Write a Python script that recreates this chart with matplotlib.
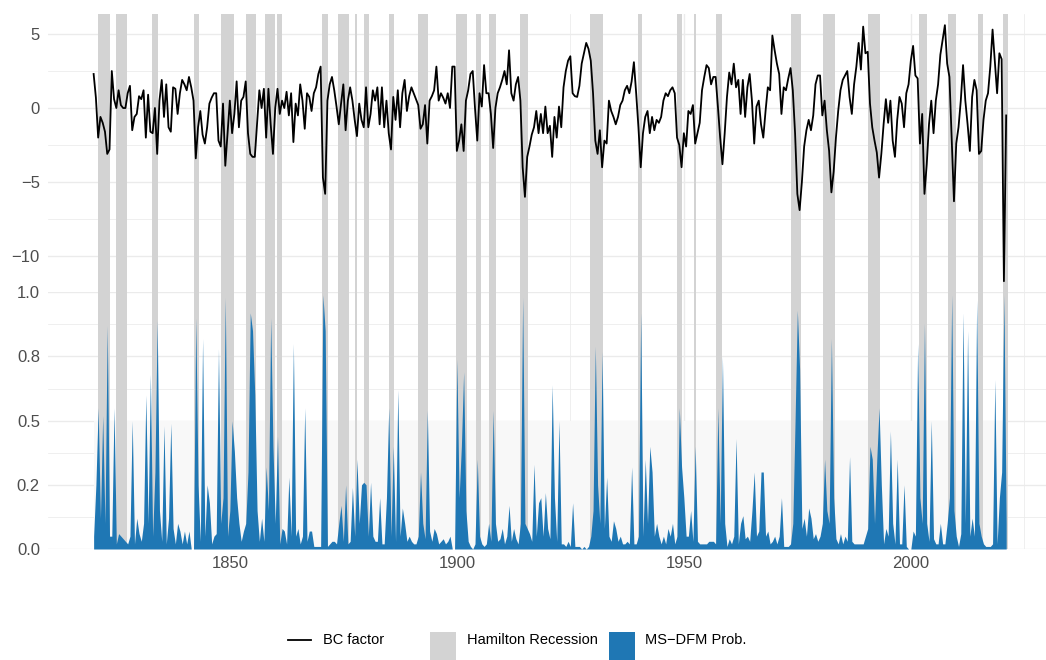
import numpy as np
import matplotlib
matplotlib.use("Agg")
import matplotlib.pyplot as plt
from matplotlib.patches import Rectangle
from matplotlib.lines import Line2D
from matplotlib.ticker import FixedLocator, FixedFormatter

plt.rcParams['font.family'] = ['Liberation Sans', 'DejaVu Sans']

# ---- data: semiannual observations starting 1820 ----
start_year = 1820.0
step_years = 0.5

bc_factor = [
    2.3, 0.7, -2.0, -0.6, -1.0, -1.6, -3.1, -2.8, 2.5, 0.6, 0.0, 1.2, 0.2, 0.0, 0.0, 1.0, 1.5, -1.5, -0.6, -0.4,
    0.8, 0.6, 1.2, -2.0, 0.9, -1.6, -1.7, 0.0, -3.1, 0.5, 1.9, -0.6, 1.6, -1.3, -1.6, 1.4, 1.3, -0.4, 1.0, 1.9,
    1.6, 1.2, 2.1, 1.4, 0.5, -3.4, -1.3, -0.2, -1.8, -2.4, -1.3, 0.3, 0.7, 1.0, 1.0, -2.2, -2.6, 0.3, -3.9, -1.7,
    0.5, -1.7, -0.4, 1.8, -1.3, 0.5, 0.75, 1.8, -1.7, -3.1, -3.3, -3.3, -1.1, 1.2, 0.0, 1.3, -2.0, 1.3, -1.1, -3.1,
    0.0, 1.3, -0.4, 0.5, 0.0, 1.1, -0.5, 1.0, -2.3, 0.3, -0.5, 1.6, 0.5, -1.4, 1.0, 0.75, -0.2, 1.0, 1.4, 2.3,
    2.8, -4.7, -5.8, 0.5, 1.6, 2.1, 1.2, 0.1, -1.1, 0.3, 1.6, -1.5, 0.5, 1.4, 0.5, -0.8, -1.9, 0.3, -0.8, -1.3,
    1.4, -1.3, -0.4, 1.2, 0.5, 1.4, -1.1, 1.4, -1.3, 0.5, -1.7, -2.8, 0.75, -0.8, 1.2, -1.3, 1.0, 1.9, -0.2, 0.8,
    1.4, 1.0, 0.6, 0.2, -1.4, -1.1, 0.2, -2.4, 0.5, 0.8, 1.2, 2.8, 0.5, 1.0, 0.7, 0.3, 1.0, 0.0, 2.8, 2.8,
    -2.9, -2.2, -1.1, -2.9, 0.5, 1.2, 2.3, 2.5, 0.0, -2.2, 1.0, 0.1, 2.9, 1.0, 1.0, -0.4, -2.7, 0.0, 1.0, 1.4,
    1.9, 2.5, 1.6, 3.9, 1.0, 0.5, 1.6, 2.1, 0.5, -4.0, -6.0, -3.3, -2.6, -1.8, -1.3, -0.2, -1.7, -0.4, -1.7, 0.1,
    -1.7, -1.2, -3.3, -0.6, -2.0, 0.1, -1.3, 1.4, 2.5, 3.2, 3.5, 1.0, 0.8, 0.75, 1.5, 3.0, 3.7, 4.4, 4.0, 3.2,
    1.0, -2.2, -3.1, -1.5, -4.0, -2.2, -2.4, 0.5, -0.2, -0.6, -1.1, -0.6, 0.2, 0.5, 1.2, 1.5, 1.0, 1.8, 3.1, 1.0,
    -1.3, -4.0, -1.7, -0.6, -0.2, -1.7, -0.6, -1.5, -0.8, -1.0, -0.6, 0.5, 1.0, 0.8, 1.2, 1.4, 1.0, -2.0, -2.5, -4.0,
    -1.7, -2.6, -0.2, -0.4, 0.2, -2.4, -1.7, -1.0, 1.2, 2.1, 2.9, 2.7, 1.6, 2.1, 2.1, 0.1, -2.0, -3.8, -1.7, 0.75,
    2.4, 1.6, 3.0, 1.4, 1.9, -0.4, 1.9, -0.6, 1.4, 2.3, 0.5, -2.4, 0.1, 0.5, -1.1, -2.0, -0.2, 1.4, 1.2, 4.9,
    3.9, 3.0, 2.3, -0.4, 1.4, 1.2, 2.0, 2.7, 1.2, -1.7, -5.8, -6.9, -5.0, -2.6, -1.5, -0.8, -1.5, -0.5, 1.6, 2.2,
    2.2, -0.5, 0.5, -1.5, -2.9, -5.7, -4.3, -2.0, -0.2, 1.2, 1.9, 2.2, 2.5, 0.75, -0.4, 1.6, 2.8, 4.4, 2.6, 5.5,
    3.7, 3.8, 0.3, -1.3, -2.2, -3.0, -4.7, -3.1, -1.1, 0.6, -1.0, 0.5, -2.2, -3.3, -0.8, 0.75, 0.3, -1.3, 1.0, 1.6,
    3.2, 4.2, 2.2, 2.0, -2.4, -0.4, -5.8, -3.8, -1.1, 0.5, -1.7, 0.5, 1.6, 3.6, 4.6, 5.6, 3.0, 2.1, -2.2, -6.3,
    -2.4, -1.3, 0.5, 2.9, 0.5, -1.1, -2.9, 0.75, 1.9, 1.2, -3.1, -2.9, -0.8, 0.5, 1.0, 2.8, 5.3, 3.2, 1.0, 3.7,
    3.3, -11.7, -0.5,
]

msdfm_prob = [
    0.05, 0.25, 0.55, 0.12, 0.52, 0.1, 0.87, 0.05, 0.05, 0.55, 0.02, 0.06, 0.05, 0.04, 0.03, 0.02, 0.05, 0.5, 0.02, 0.12,
    0.06, 0.03, 0.1, 0.6, 0.1, 0.68, 0.05, 0.3, 0.89, 0.15, 0.03, 0.48, 0.02, 0.12, 0.49, 0.08, 0.02, 0.1, 0.07, 0.02,
    0.07, 0.02, 0.07, 0.0, 0.0, 0.9, 0.25, 0.03, 0.82, 0.05, 0.25, 0.18, 0.02, 0.05, 0.06, 0.78, 0.1, 0.2, 0.98, 0.05,
    0.15, 0.5, 0.38, 0.2, 0.1, 0.03, 0.07, 0.1, 0.3, 0.92, 0.85, 0.6, 0.15, 0.03, 0.12, 0.03, 0.32, 0.15, 0.9, 0.4,
    0.1, 0.44, 0.02, 0.08, 0.07, 0.02, 0.28, 0.05, 0.8, 0.05, 0.08, 0.02, 0.05, 0.55, 0.03, 0.07, 0.07, 0.01, 0.01, 0.01,
    0.01, 0.99, 0.85, 0.01, 0.02, 0.03, 0.03, 0.02, 0.1, 0.17, 0.03, 0.25, 0.02, 0.03, 0.24, 0.05, 0.35, 0.1, 0.25, 0.26,
    0.25, 0.05, 0.26, 0.05, 0.03, 0.03, 0.2, 0.02, 0.02, 0.2, 0.55, 0.05, 0.4, 0.03, 0.62, 0.05, 0.16, 0.1, 0.03, 0.05,
    0.03, 0.02, 0.02, 0.05, 0.3, 0.1, 0.04, 0.54, 0.07, 0.03, 0.08, 0.06, 0.02, 0.03, 0.04, 0.02, 0.03, 0.05, 0.0, 0.0,
    0.74, 0.2, 0.4, 0.69, 0.15, 0.03, 0.01, 0.0, 0.02, 0.35, 0.05, 0.02, 0.01, 0.02, 0.1, 0.03, 0.54, 0.1, 0.03, 0.04,
    0.08, 0.02, 0.05, 0.17, 0.03, 0.08, 0.04, 0.02, 0.1, 0.98, 0.1, 0.08, 0.06, 0.03, 0.33, 0.05, 0.18, 0.2, 0.05, 0.22,
    0.08, 0.04, 0.64, 0.2, 0.03, 0.5, 0.02, 0.02, 0.01, 0.03, 0.01, 0.18, 0.01, 0.01, 0.01, 0.0, 0.01, 0.0, 0.01, 0.05,
    0.15, 0.79, 0.25, 0.1, 0.77, 0.08, 0.28, 0.05, 0.03, 0.11, 0.08, 0.03, 0.05, 0.02, 0.02, 0.03, 0.02, 0.32, 0.02, 0.02,
    0.05, 0.92, 0.05, 0.35, 0.1, 0.4, 0.3, 0.05, 0.1, 0.05, 0.02, 0.05, 0.02, 0.08, 0.05, 0.1, 0.02, 0.05, 0.55, 0.32,
    0.2, 0.05, 0.05, 0.15, 0.03, 0.4, 0.03, 0.02, 0.02, 0.02, 0.02, 0.03, 0.03, 0.03, 0.02, 0.55, 0.1, 0.75, 0.1, 0.01,
    0.04, 0.02, 0.05, 0.43, 0.02, 0.1, 0.13, 0.04, 0.05, 0.03, 0.15, 0.3, 0.05, 0.07, 0.3, 0.3, 0.05, 0.07, 0.02, 0.03,
    0.05, 0.02, 0.05, 0.2, 0.01, 0.01, 0.01, 0.02, 0.1, 0.5, 0.93, 0.7, 0.08, 0.12, 0.05, 0.16, 0.12, 0.04, 0.06, 0.03,
    0.05, 0.1, 0.35, 0.15, 0.1, 0.82, 0.2, 0.04, 0.02, 0.06, 0.02, 0.05, 0.03, 0.36, 0.03, 0.02, 0.02, 0.02, 0.02, 0.02,
    0.05, 0.08, 0.4, 0.35, 0.1, 0.35, 0.55, 0.25, 0.02, 0.08, 0.05, 0.46, 0.1, 0.02, 0.35, 0.02, 0.02, 0.25, 0.01, 0.0,
    0.0, 0.07, 0.05, 0.8, 0.2, 0.1, 0.88, 0.1, 0.03, 0.5, 0.04, 0.02, 0.02, 0.1, 0.02, 0.02, 0.1, 0.2, 0.99, 0.15,
    0.05, 0.01, 0.06, 0.92, 0.1, 0.85, 0.05, 0.12, 0.05, 0.97, 0.1, 0.05, 0.02, 0.01, 0.01, 0.01, 0.02, 0.66, 0.02, 0.2,
    0.3, 0.99, 0.1,
]

# Hamilton recession episodes (start, end) in decimal years
rec_start = [1821.0, 1824.9, 1832.8, 1842.1, 1848.0, 1853.5, 1857.7, 1860.4, 1870.3, 1873.9,
             1877.5, 1879.5, 1885.0, 1891.4, 1899.9, 1904.2, 1907.0, 1913.9, 1929.3, 1939.8,
             1948.4, 1952.2, 1957.1, 1973.7, 1980.6, 1990.6, 2001.8, 2008.1, 2014.8, 2020.3]
rec_end = [1823.6, 1827.3, 1834.1, 1843.2, 1851.0, 1855.7, 1860.0, 1861.4, 1871.6, 1876.2,
           1878.0, 1880.6, 1886.1, 1893.6, 1902.2, 1905.3, 1908.6, 1915.6, 1932.2, 1940.7,
           1949.6, 1952.6, 1958.5, 1975.9, 1983.3, 1993.3, 2003.5, 2009.9, 2015.9, 2021.3]

prob_threshold = 0.5

x_major = [1850, 1900, 1950, 2000]
x_minor = [1825, 1875, 1925, 1975, 2025]
bc_major = [5, 0, -5, -10]
bc_minor = [2.5, -2.5, -7.5]
prob_major = [0.0, 0.25, 0.5, 0.75, 1.0]
prob_labels = ['0.0', '0.2', '0.5', '0.8', '1.0']
prob_minor = [0.125, 0.375, 0.625, 0.875]

legend_labels = ['BC factor', 'Hamilton Recession', 'MS\u2212DFM Prob.']

dates = start_year + step_years * np.arange(len(bc_factor))
prob_dates = start_year + step_years * np.arange(len(msdfm_prob))

# ---- figure layout (pixel geometry of a 1046x660 canvas) ----
W, H = 1046, 660
fig = plt.figure(figsize=(W / 100, H / 100), dpi=100)
fig.patch.set_facecolor('white')


def box(x0, y0, x1, y1):
    return [x0 / W, 1 - y1 / H, (x1 - x0) / W, (y1 - y0) / H]


ax_top = fig.add_axes(box(48, 13.9, 1046, 292.3))
ax_bot = fig.add_axes(box(48, 292.3, 1046, 549))

GRID = '#EBEBEB'
RECESSION = '#D3D3D3'
BLUE = '#1F77B4'
TICK_COLOR = '#4D4D4D'

for ax in (ax_top, ax_bot):
    ax.set_facecolor('white')
    for sp in ax.spines.values():
        sp.set_visible(False)
    ax.set_axisbelow(True)
    ax.set_xlim(1809.95, 2029.77)
    ax.xaxis.set_major_locator(FixedLocator(x_major))
    ax.xaxis.set_minor_locator(FixedLocator(x_minor))
    ax.grid(which='major', color=GRID, linewidth=1.0)
    ax.grid(which='minor', color=GRID, linewidth=0.55)
    ax.tick_params(which='both', length=0, labelsize=12, labelcolor=TICK_COLOR)
    ax.tick_params(axis='y', pad=5.8)
    ax.tick_params(axis='x', pad=5.0)
    for s, e in zip(rec_start, rec_end):
        ax.axvspan(s, e, color=RECESSION, linewidth=0, zorder=1.5)

# top panel: business-cycle factor
ax_top.set_ylim(-12.45, 6.36)
ax_top.yaxis.set_major_locator(FixedLocator(bc_major))
ax_top.yaxis.set_minor_locator(FixedLocator(bc_minor))
ax_top.tick_params(axis='x', labelbottom=False)
ax_top.plot(dates, bc_factor, color='black', linewidth=1.3, zorder=3)

# bottom panel: recession probability
ax_bot.set_ylim(0, 1)
ax_bot.yaxis.set_major_locator(FixedLocator(prob_major))
ax_bot.yaxis.set_major_formatter(FixedFormatter(prob_labels))
ax_bot.yaxis.set_minor_locator(FixedLocator(prob_minor))
ax_bot.set_xticks(x_major)
ax_bot.set_xticklabels([str(v) for v in x_major])
ax_bot.fill_between(prob_dates, 0, prob_threshold, color='#F8F8F8', linewidth=0, zorder=1)
ax_bot.fill_between(prob_dates, 0, msdfm_prob, color=BLUE, linewidth=0, zorder=2)

# ---- legend along the bottom ----
tf = fig.transFigure
ly = 1 - 640 / H
fig.add_artist(Line2D([288.3 / W, 310.7 / W], [ly, ly], color='black', linewidth=1.3, transform=tf))
fig.text(323.3 / W, ly, legend_labels[0], ha='left', va='center', fontsize=10.5, color='black')
fig.add_artist(Rectangle((430.3 / W, 1 - 660 / H), 25.7 / W, 28.3 / H,
                         facecolor=RECESSION, edgecolor='none', transform=tf))
fig.text(467.3 / W, ly, legend_labels[1], ha='left', va='center', fontsize=10.5, color='black')
fig.add_artist(Rectangle((609.0 / W, 1 - 660 / H), 26.0 / W, 28.3 / H,
                         facecolor=BLUE, edgecolor='none', transform=tf))
fig.text(645.0 / W, ly, legend_labels[2], ha='left', va='center', fontsize=10.5, color='black')

fig.savefig('out.png', dpi=100)
